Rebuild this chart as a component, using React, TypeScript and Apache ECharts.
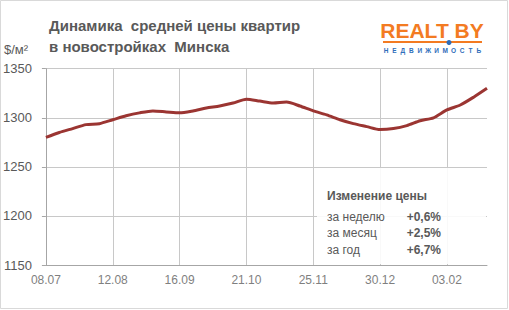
import React, { useEffect, useRef } from "react";
import * as echarts from "echarts";

const categories = [
  "08.07", "15.07", "22.07", "29.07", "05.08", "12.08", "19.08", "26.08", "02.09", "09.09",
  "16.09", "23.09", "30.09", "07.10", "14.10", "21.10", "28.10", "04.11", "11.11", "18.11",
  "25.11", "02.12", "09.12", "16.12", "23.12", "30.12", "06.01", "13.01", "20.01", "27.01",
  "03.02", "10.02", "17.02", "24.02",
];
const prices = [
  1280, 1285, 1289, 1293, 1294, 1298, 1302, 1305, 1307, 1306,
  1305, 1307, 1310, 1312, 1315, 1319, 1317, 1315, 1316, 1312,
  1307, 1303, 1298, 1294, 1291, 1288, 1289, 1292, 1297, 1300,
  1308, 1313, 1321, 1330,
];
const titleLines = ["Динамика  средней цены квартир", "в новостройках  Минска"];
const unitLabel = "$/м²";
const changeTitle = "Изменение цены";
const changeLabels = ["за неделю", "за месяц", "за год"];
const changeValues = ["+0,6%", "+2,5%", "+6,7%"];
const logoText = "REALT BY";
const logoSub = "НЕДВИЖИМОСТЬ";

const FONT = "'Liberation Sans', Arial, sans-serif";
const GRAY = "#595959";

export default function App() {
  const ref = useRef<HTMLDivElement>(null);
  useEffect(() => {
    if (!ref.current) return;
    const chart = echarts.init(ref.current, undefined, { renderer: "svg" });
    const subLetters = logoSub.split("").map((ch, i) => ({
      type: "text",
      x: 386 + i * 8.45,
      y: 50,
      style: {
        text: ch,
        fill: "#2F6EBA",
        font: `bold 6.5px ${FONT}`,
        align: "center",
        verticalAlign: "middle",
      },
    }));
    chart.setOption({
      animation: false,
      backgroundColor: "#ffffff",
      textStyle: { fontFamily: FONT },
      grid: { left: 45, right: 22, top: 68.7, bottom: 45, containLabel: false },
      xAxis: {
        type: "category",
        data: categories,
        boundaryGap: false,
        axisLine: { show: true, lineStyle: { color: "#a6a6a6", width: 1 } },
        axisTick: { show: false },
        axisLabel: {
          interval: 4,
          color: "#7f7f7f",
          fontSize: 12,
          margin: 9,
          fontFamily: FONT,
        },
        splitLine: {
          show: true,
          interval: 4,
          lineStyle: { color: "#c8c8c8", width: 1 },
        },
      },
      yAxis: {
        type: "value",
        min: 1150,
        max: 1350,
        interval: 50,
        axisLine: { show: true, lineStyle: { color: "#a6a6a6", width: 1 } },
        axisTick: { show: true, length: 4, lineStyle: { color: "#a6a6a6" } },
        axisLabel: {
          color: GRAY,
          fontSize: 13,
          margin: 14,
          fontFamily: FONT,
          formatter: (v: number) => String(v),
        },
        splitLine: { show: true, lineStyle: { color: "#c8c8c8", width: 1 } },
      },
      series: [
        {
          type: "line",
          data: prices,
          smooth: 0.25,
          symbol: "none",
          lineStyle: { color: "#9B3532", width: 3 },
          z: 2,
        },
      ],
      graphic: [
        {
          type: "rect",
          shape: { x: 0.5, y: 0.5, width: 507, height: 308 },
          style: { fill: "none", stroke: "#d9d9d9", lineWidth: 1 },
          silent: true,
        },
        {
          type: "rect",
          shape: { x: 317, y: 168, width: 169, height: 96 },
          style: { fill: "rgba(255,255,255,0.88)" },
          z: 10,
        },
        {
          type: "text",
          x: 49,
          y: 25,
          style: { text: titleLines[0], fill: GRAY, font: `bold 15px ${FONT}`, verticalAlign: "middle" },
        },
        {
          type: "text",
          x: 49,
          y: 46,
          style: { text: titleLines[1], fill: GRAY, font: `bold 15px ${FONT}`, verticalAlign: "middle" },
        },
        {
          type: "text",
          x: 4,
          y: 49,
          style: { text: unitLabel, fill: GRAY, font: `13px ${FONT}`, verticalAlign: "middle" },
        },
        {
          type: "text",
          x: 327,
          y: 196,
          z: 11,
          style: { text: changeTitle, fill: GRAY, font: `bold 12px ${FONT}`, verticalAlign: "middle" },
        },
        ...changeLabels.map((t, i) => ({
          type: "text",
          x: 327,
          y: 216.7 + i * 16.7,
          z: 11,
          style: { text: t, fill: GRAY, font: `12px ${FONT}`, verticalAlign: "middle" },
        })),
        ...changeValues.map((t, i) => ({
          type: "text",
          x: 441,
          y: 216.7 + i * 16.7,
          z: 11,
          style: { text: t, fill: GRAY, font: `bold 12px ${FONT}`, verticalAlign: "middle", align: "right" },
        })),
        {
          type: "text",
          x: 432,
          y: 30,
          style: {
            text: logoText,
            fill: "#F37B22",
            font: `bold 21px ${FONT}`,
            align: "center",
            verticalAlign: "middle",
          },
        },
        {
          type: "rect",
          shape: { x: 383, y: 41, width: 99, height: 2 },
          style: { fill: "#F37B22" },
        },
        {
          type: "circle",
          shape: { cx: 449, cy: 42.5, r: 2.5 },
          style: { fill: "#2F6EBA" },
          z: 5,
        },
        ...subLetters,
      ],
    });
    return () => chart.dispose();
  }, []);
  return <div ref={ref} style={{ width: 509, height: 310, position: "absolute", left: 0, top: 0 }} />;
}
